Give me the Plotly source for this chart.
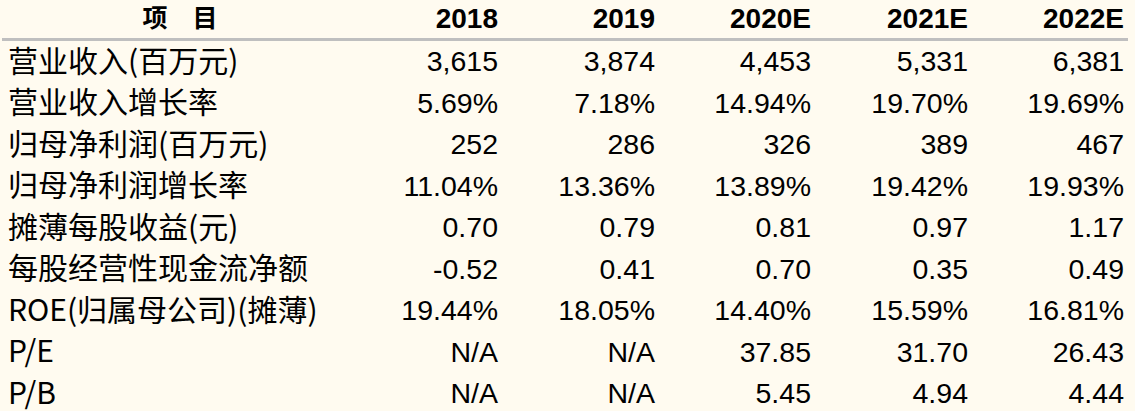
import plotly.graph_objects as go

# table content
items = [
    "营业收入(百万元)",
    "营业收入增长率",
    "归母净利润(百万元)",
    "归母净利润增长率",
    "摊薄每股收益(元)",
    "每股经营性现金流净额",
    "ROE(归属母公司)(摊薄)",
    "P/E",
    "P/B",
]
years = ["2018", "2019", "2020E", "2021E", "2022E"]

y2018 = ["3,615", "5.69%", "252", "11.04%", "0.70", "-0.52", "19.44%", "N/A", "N/A"]
y2019 = ["3,874", "7.18%", "286", "13.36%", "0.79", "0.41", "18.05%", "N/A", "N/A"]
y2020 = ["4,453", "14.94%", "326", "13.89%", "0.81", "0.70", "14.40%", "37.85", "5.45"]
y2021 = ["5,331", "19.70%", "389", "19.42%", "0.97", "0.35", "15.59%", "31.70", "4.94"]
y2022 = ["6,381", "19.69%", "467", "19.93%", "1.17", "0.49", "16.81%", "26.43", "4.44"]
columns = [y2018, y2019, y2020, y2021, y2022]

BG = "#FFFBF0"
CJK = "Noto Sans CJK SC"
NUM = "Liberation Sans"
W, H = 1135, 411
col_right = [498, 655, 811, 968, 1124]   # right edge of each year column (px)
label_left = 8
header_center = 180
row0 = 22.5     # pixel position of row index 0
pitch = 41.5    # row spacing in px
header_y = (20.5 - row0) / pitch

rows = list(range(1, len(items) + 1))

fig = go.Figure()

# header
fig.add_trace(go.Scatter(
    x=[header_center], y=[header_y], mode="text", text=["<b>项　目</b>"],
    textposition="middle center",
    textfont=dict(family=CJK, size=25, color="black"),
    hoverinfo="skip", showlegend=False,
))
fig.add_trace(go.Scatter(
    x=col_right, y=[header_y] * len(years), mode="text",
    text=["<b>%s</b>" % y for y in years],
    textposition="middle left",
    textfont=dict(family=NUM, size=28, color="black"),
    hoverinfo="skip", showlegend=False,
))

# row labels
fig.add_trace(go.Scatter(
    x=[label_left] * len(items), y=rows, mode="text", text=items,
    textposition="middle right",
    textfont=dict(family=CJK, size=30, color="black"),
    hoverinfo="skip", showlegend=False,
))

# values
for xr, vals in zip(col_right, columns):
    fig.add_trace(go.Scatter(
        x=[xr] * len(vals), y=rows, mode="text", text=vals,
        textposition="middle left",
        textfont=dict(family=NUM, size=28.5, color="black"),
        hoverinfo="skip", showlegend=False,
    ))

# grey rule under the header
fig.add_shape(type="line", xref="x", yref="paper",
              x0=2, x1=1128, y0=1 - 39.5 / H, y1=1 - 39.5 / H,
              line=dict(color="#BFBFBF", width=3))

fig.update_layout(
    width=W, height=H,
    margin=dict(l=0, r=0, t=0, b=0),
    paper_bgcolor=BG,
    plot_bgcolor=BG,
    xaxis=dict(range=[0, W], visible=False, fixedrange=True),
    yaxis=dict(range=[(H - row0) / pitch, -row0 / pitch],
               visible=False, fixedrange=True),
)

fig.write_html("out.html", config={"displayModeBar": False},
               post_script="document.body.style.margin='0';")
